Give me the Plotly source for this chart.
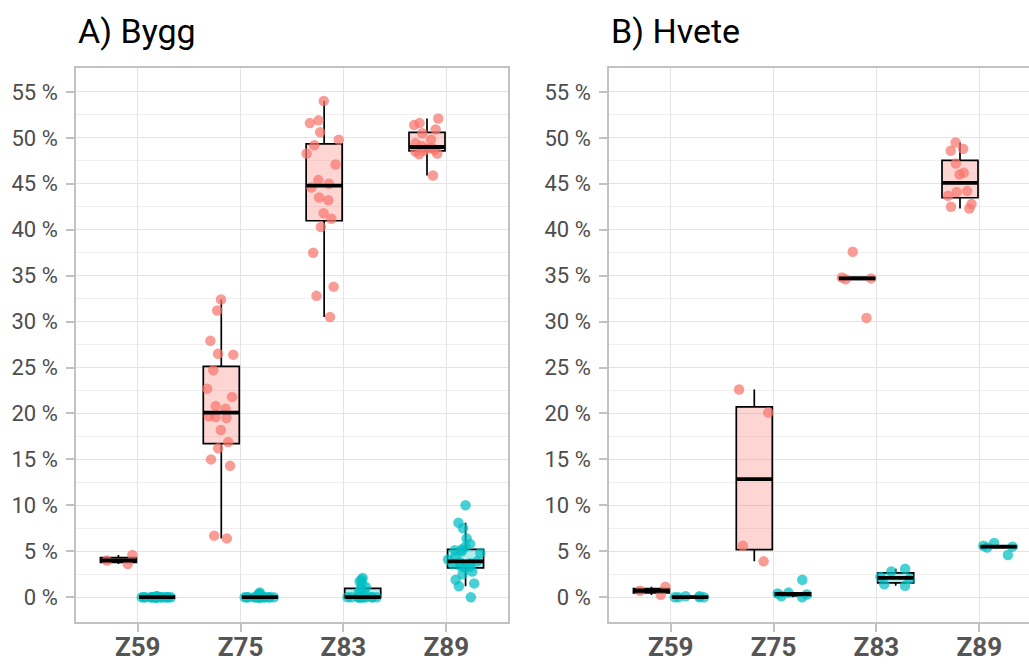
import numpy as np
import plotly.graph_objects as go

categories = ["Z59", "Z75", "Z83", "Z89"]
panels = ["A) Bygg", "B) Hvete"]
group_names = ["Gruppe 1", "Gruppe 2"]

# ---- Bygg, red group ----
bygg_red_z59 = [4.6, 4.0, 3.6]
bygg_red_z75 = [32.4, 31.2, 27.9, 26.5, 26.4, 24.7, 22.7, 21.8, 20.8, 20.5,
                19.7, 19.6, 19.5, 18.2, 16.9, 16.2, 15.0, 14.3, 6.7, 6.4]
bygg_red_z83 = [54.0, 51.9, 51.6, 50.6, 49.8, 49.2, 48.3, 47.1, 45.4, 45.0,
                44.6, 43.5, 43.2, 41.8, 41.2, 40.3, 37.5, 33.8, 32.8, 30.5]
bygg_red_z89 = [52.1, 51.6, 51.4, 50.9, 50.5, 49.8, 49.4, 49.1, 48.9, 48.8,
                48.7, 48.6, 48.5, 48.3, 48.2, 45.9]
# ---- Bygg, teal group ----
bygg_teal_z59 = [0.1, 0.1, 0.0, 0.0, 0.0, 0.0, 0.0, 0.0, 0.0, 0.0,
                 0.0, 0.0, 0.0, 0.0, 0.0, 0.0, 0.0, 0.0, 0.0, 0.0]
bygg_teal_z75 = [0.5, 0.4, 0.3, 0.2, 0.0, 0.0, 0.0, 0.0, 0.0, 0.0,
                 0.0, 0.0, 0.0, 0.0, 0.0, 0.0, 0.0, 0.0, 0.0, 0.0]
bygg_teal_z83 = [2.1, 1.9, 1.7, 1.4, 1.1, 0.9, 0.5, 0.3, 0.0, 0.0,
                 0.0, 0.0, 0.0, 0.0, 0.0, 0.0, 0.0, 0.0, 0.0, 0.0]
bygg_teal_z89 = [10.0, 8.1, 7.5, 6.4, 5.8, 5.5, 5.2, 5.1, 5.0, 4.8, 4.4, 4.1, 3.9,
                 3.8, 3.7, 3.6, 3.4, 3.3, 3.2, 2.8, 2.5, 1.9, 1.5, 1.2, 0.0]
# ---- Hvete, red group ----
hvete_red_z59 = [1.15, 0.7, 0.25]
hvete_red_z75 = [22.6, 20.1, 5.6, 3.9]
hvete_red_z83 = [37.6, 34.8, 34.7, 34.6, 30.4]
hvete_red_z89 = [49.5, 48.8, 48.6, 47.2, 46.2, 46.0, 44.2, 44.1, 43.7, 42.8, 42.5, 42.3]
# ---- Hvete, teal group ----
hvete_teal_z59 = [0.1, 0.1, 0.0, 0.0, 0.0, 0.0]
hvete_teal_z75 = [1.9, 0.5, 0.4, 0.3, 0.1, 0.0]
hvete_teal_z83 = [3.1, 2.8, 2.2, 2.0, 1.4, 1.25]
hvete_teal_z89 = [5.9, 5.6, 5.5, 5.4, 4.6]

y_ticks = [0, 5, 10, 15, 20, 25, 30, 35, 40, 45, 50, 55]

data = {
    "bygg": [[bygg_red_z59, bygg_red_z75, bygg_red_z83, bygg_red_z89],
             [bygg_teal_z59, bygg_teal_z75, bygg_teal_z83, bygg_teal_z89]],
    "hvete": [[hvete_red_z59, hvete_red_z75, hvete_red_z83, hvete_red_z89],
              [hvete_teal_z59, hvete_teal_z75, hvete_teal_z83, hvete_teal_z89]],
}

# ---- styling ----
point_colors = ["rgba(248,118,109,0.72)", "rgba(0,191,196,0.72)"]
fill_colors = ["rgba(248,118,109,0.3)", "rgba(0,191,196,0.3)"]
offsets = [-0.1875, 0.1875]
box_w = 0.35
FONT = "Roboto, 'Roboto Condensed', sans-serif"
GRID = "#E4E4E4"
BORDER = "#C2C2C2"


def stats(vals):
    v = np.sort(np.asarray(vals, dtype=float))
    q1, med, q3 = np.percentile(v, [25, 50, 75])
    iqr = q3 - q1
    lf = v[v >= q1 - 1.5 * iqr].min()
    uf = v[v <= q3 + 1.5 * iqr].max()
    return q1, med, q3, min(lf, q1), max(uf, q3)


fig = go.Figure()
axes = [("x", "y"), ("x2", "y2")]

for pi, key in enumerate(["bygg", "hvete"]):
    xa, ya = axes[pi]
    # boxes
    for g in range(2):
        for ci, cat in enumerate(categories):
            vals = data[key][g][ci]
            pos = ci + 1 + offsets[g]
            q1, med, q3, lf, uf = stats(vals)
            fig.add_trace(go.Box(
                x=[pos], q1=[q1], median=[med], q3=[q3],
                lowerfence=[lf], upperfence=[uf],
                width=box_w, boxpoints=False, whiskerwidth=0,
                fillcolor=fill_colors[g],
                line=dict(color="black", width=1.7),
                xaxis=xa, yaxis=ya, showlegend=False, hoverinfo="skip",
                name=group_names[g]))
    # jittered points
    for g in range(2):
        for ci, cat in enumerate(categories):
            vals = data[key][g][ci]
            pos = ci + 1 + offsets[g]
            fig.add_trace(go.Box(
                x=[pos] * len(vals), y=vals,
                width=box_w, boxpoints="all", jitter=1.0, pointpos=0,
                fillcolor="rgba(0,0,0,0)",
                line=dict(color="rgba(0,0,0,0)", width=0),
                marker=dict(color=point_colors[g], size=10.5, line=dict(width=0)),
                xaxis=xa, yaxis=ya, showlegend=False,
                name=group_names[g]))
    # thick medians
    for g in range(2):
        for ci, cat in enumerate(categories):
            vals = data[key][g][ci]
            pos = ci + 1 + offsets[g]
            med = float(np.median(vals))
            fig.add_trace(go.Scatter(
                x=[pos - box_w / 2, pos + box_w / 2], y=[med, med],
                mode="lines", line=dict(color="black", width=3.8),
                xaxis=xa, yaxis=ya, showlegend=False, hoverinfo="skip"))

W, H = 1029, 664
ml, mt, mb = 76, 68, 42
plot_w = W - ml
left_dom = [0, 432 / plot_w]
right_dom = [(609 - ml) / plot_w, 1.0]

xcommon = dict(
    tickmode="array", tickvals=[1, 2, 3, 4], ticktext=categories,
    showgrid=True, gridcolor=GRID, gridwidth=1.3, zeroline=False,
    showline=True, linecolor=BORDER, linewidth=1.6, mirror=True,
    ticks="outside", ticklen=8, tickcolor=BORDER, tickwidth=1.6,
    tickfont=dict(family=FONT, size=26, color="#555555", weight="bold"),
    automargin=False, ticklabelstandoff=-7,
)
ycommon = dict(
    range=[-2.7, 57.6], tickmode="array", tickvals=y_ticks,
    ticktext=[f"{t} %" for t in y_ticks],
    showgrid=True, gridcolor=GRID, gridwidth=1.3, zeroline=False,
    minor=dict(tickmode="array", tickvals=[t + 2.5 for t in y_ticks],
               showgrid=True, gridcolor="#EFEFEF", gridwidth=0.8, ticks=""),
    showline=True, linecolor=BORDER, linewidth=1.6,
    ticks="outside", ticklen=8, tickcolor=BORDER, tickwidth=1.6,
    tickfont=dict(family=FONT, size=22, color="#4D4D4D"),
    ticklabelstandoff=4, automargin=False,
)

fig.update_layout(
    width=W, height=H,
    margin=dict(l=ml, r=0, t=mt, b=mb, pad=0),
    paper_bgcolor="white", plot_bgcolor="white",
    boxmode="overlay",
    showlegend=False,
    xaxis=dict(domain=left_dom, range=[0.4, 4.6], anchor="y", **xcommon),
    yaxis=dict(anchor="x", mirror=True, **ycommon),
    xaxis2=dict(domain=right_dom, range=[0.4, 0.4 + (W - 609) / (432 / 4.2)],
                anchor="y2", **xcommon),
    yaxis2=dict(anchor="x2", mirror=False, **ycommon),
    annotations=[
        dict(text=panels[0], xref="x domain", yref="paper", x=0, y=1 + (68 - 31) / 554,
             xanchor="left", yanchor="middle", showarrow=False,
             font=dict(family=FONT, size=34, color="black")),
        dict(text=panels[1], xref="x2 domain", yref="paper", x=0, y=1 + (68 - 31) / 554,
             xanchor="left", yanchor="middle", showarrow=False,
             font=dict(family=FONT, size=34, color="black")),
    ],
)

fig.write_html("out.html")
